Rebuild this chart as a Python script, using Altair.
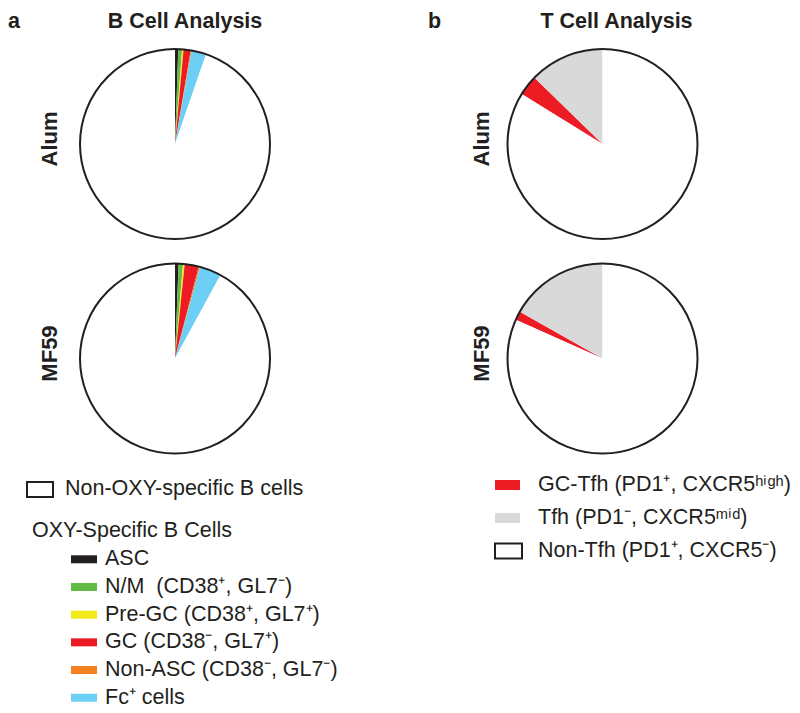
import altair as alt
import pandas as pd

# ---------------- data ----------------
ROW_LABELS = ["Alum", "MF59"]
PANEL_LETTERS = ["a", "b"]
PANEL_TITLES = ["B Cell Analysis", "T Cell Analysis"]

B_CATEGORIES = [
    "ASC",
    "N/M\u00a0 (CD38⁺, GL7⁻)",
    "Pre-GC (CD38⁺, GL7⁺)",
    "GC (CD38⁻, GL7⁺)",
    "Non-ASC (CD38⁻, GL7⁻)",
    "Fc⁺ cells",
    "Non-OXY-specific B cells",
]
B_COLORS = ["#231f20", "#62bb46", "#f4eb1c", "#ed1c24", "#f58220", "#6dcff6", "#ffffff"]
B_ALUM = [0.55, 0.64, 0.25, 1.22, 0.14, 2.50, 94.70]
B_MF59 = [0.60, 0.75, 0.28, 2.40, 0.22, 3.70, 92.05]
B_SLICE_ORDER = [0, 1, 2, 3, 4, 5, 6]
B_LEGEND_TITLE = "OXY-Specific B Cells"

T_CATEGORIES = [
    "GC-Tfh (PD1⁺, CXCR5ʰⁱᵍʰ)",
    "Tfh (PD1⁻, CXCR5ᵐⁱᵈ)",
    "Non-Tfh (PD1⁺, CXCR5⁻)",
]
T_COLORS = ["#ed1c24", "#d9d9d9", "#ffffff"]
T_ALUM = [3.5, 12.7, 83.8]
T_MF59 = [1.5, 16.8, 81.7]
T_SLICE_ORDER = [1, 2, 0]

# ---------------- style ----------------
INK = "#231f20"
FONT = "Liberation Sans"
PIE = 190
FS = 21.5


def text_layer(value, x, y, align="left", baseline="middle", bold=False, size=FS, angle=0):
    kw = dict(align=align, baseline=baseline, font=FONT, fontSize=size, color=INK)
    if bold:
        kw["fontWeight"] = "bold"
    if angle:
        kw["angle"] = angle
    return (
        alt.Chart(pd.DataFrame({"t": [value]}))
        .mark_text(**kw)
        .encode(x=alt.value(x), y=alt.value(y), text="t:N")
    )


def pie(cats, vals, colors, order, row_label, label_x, header=None):
    df = pd.DataFrame({"cat": cats, "value": vals, "ord": order})
    base = alt.Chart(df)
    slices = base.mark_arc(strokeWidth=0).encode(
        theta=alt.Theta("value:Q", stack=True),
        color=alt.Color("cat:N", scale=alt.Scale(domain=cats, range=colors), legend=None),
        order=alt.Order("ord:Q"),
    )
    outline = base.mark_arc(fill="transparent", stroke=INK, strokeWidth=2).encode(
        theta=alt.Theta("sum(value):Q", stack=True)
    )
    layers = [slices, outline,
              text_layer(row_label, label_x, 90, align="center", baseline="alphabetic",
                         bold=True, size=22, angle=270)]
    if header is not None:
        letter, title, letter_x, title_x = header
        layers.append(text_layer(letter, letter_x, -38, align="left", baseline="top", bold=True))
        layers.append(text_layer(title, title_x, -38, align="center", baseline="top", bold=True))
    return alt.layer(*layers).properties(width=PIE, height=PIE)


def rect_path(half_h):
    return f"M-1,-{half_h}H1V{half_h}H-1Z"


def legend_b():
    items = B_CATEGORIES[:-1]
    cols = B_COLORS[:-1]
    df = pd.DataFrame({"label": items})
    y = alt.Y("label:N", sort=items, axis=None,
              scale=alt.Scale(type="point", range=[81.3, 219.7], padding=0))
    sw = alt.Chart(df).mark_point(shape=rect_path(0.3077), filled=True, size=676,
                                  opacity=1, strokeWidth=0).encode(
        x=alt.value(4), y=y,
        fill=alt.Fill("label:N", scale=alt.Scale(domain=items, range=cols), legend=None),
    )
    txt = alt.Chart(df).mark_text(align="left", baseline="middle", font=FONT,
                                  fontSize=FS, color=INK).encode(
        x=alt.value(25), y=y, text="label:N")
    non_df = pd.DataFrame({"label": [B_CATEGORIES[-1]]})
    non_sw = alt.Chart(non_df).mark_point(shape=rect_path(0.577), filled=True, fill="white",
                                          stroke=INK, strokeWidth=2, size=676, opacity=1).encode(
        x=alt.value(-40), y=alt.value(11.5))
    non_txt = alt.Chart(non_df).mark_text(align="left", baseline="middle", font=FONT,
                                          fontSize=FS, color=INK).encode(
        x=alt.value(-15), y=alt.value(10.5), text="label:N")
    head = text_layer(B_LEGEND_TITLE, -48, 53)
    return alt.layer(non_sw, non_txt, head, sw, txt).properties(width=PIE, height=234)


def legend_t():
    filled_items = T_CATEGORIES[:2]
    filled_cols = T_COLORS[:2]
    y = alt.Y("label:N", sort=T_CATEGORIES, axis=None,
              scale=alt.Scale(type="point", domain=T_CATEGORIES, range=[7, 73], padding=0))
    df_f = pd.DataFrame({"label": filled_items})
    sw = alt.Chart(df_f).mark_point(shape=rect_path(0.4), filled=True, size=625,
                                    opacity=1, strokeWidth=0).encode(
        x=alt.value(0), y=y,
        fill=alt.Fill("label:N", scale=alt.Scale(domain=filled_items, range=filled_cols), legend=None),
    )
    df_o = pd.DataFrame({"label": [T_CATEGORIES[2]]})
    sw_o = alt.Chart(df_o).mark_point(shape=rect_path(0.556), filled=True, fill="white",
                                      stroke=INK, strokeWidth=2, size=729, opacity=1).encode(
        x=alt.value(1), y=y)
    df_all = pd.DataFrame({"label": T_CATEGORIES})
    txt = alt.Chart(df_all).mark_text(align="left", baseline="middle", font=FONT,
                                      fontSize=FS, color=INK).encode(
        x=alt.value(30.5), y=y, text="label:N")
    return alt.layer(sw, sw_o, txt).properties(width=PIE, height=234)


pie_b_alum = pie(B_CATEGORIES, B_ALUM, B_COLORS, B_SLICE_ORDER, ROW_LABELS[0], -23,
                 header=(PANEL_LETTERS[0], PANEL_TITLES[0], -72, 105))
pie_t_alum = pie(T_CATEGORIES, T_ALUM, T_COLORS, T_SLICE_ORDER, ROW_LABELS[0], -19,
                 header=(PANEL_LETTERS[1], PANEL_TITLES[1], -79.5, 109))
pie_b_mf59 = pie(B_CATEGORIES, B_MF59, B_COLORS, B_SLICE_ORDER, ROW_LABELS[1], -23)
pie_t_mf59 = pie(T_CATEGORIES, T_MF59, T_COLORS, T_SLICE_ORDER, ROW_LABELS[1], -19)

chart = (
    alt.concat(
        pie_b_alum, pie_t_alum, pie_b_mf59, pie_t_mf59, legend_b(), legend_t(),
        columns=2, bounds="flush", align="each",
        spacing={"row": 24.5, "column": 237.5},
    )
    .resolve_scale(color="independent", fill="independent", theta="independent", y="independent")
    .properties(padding={"top": 3, "left": 0, "right": 0, "bottom": 0}, background="white")
    .configure(font=FONT)
    .configure_view(strokeWidth=0)
)

chart.save("out.html", embed_options={"renderer": "svg", "actions": False})
